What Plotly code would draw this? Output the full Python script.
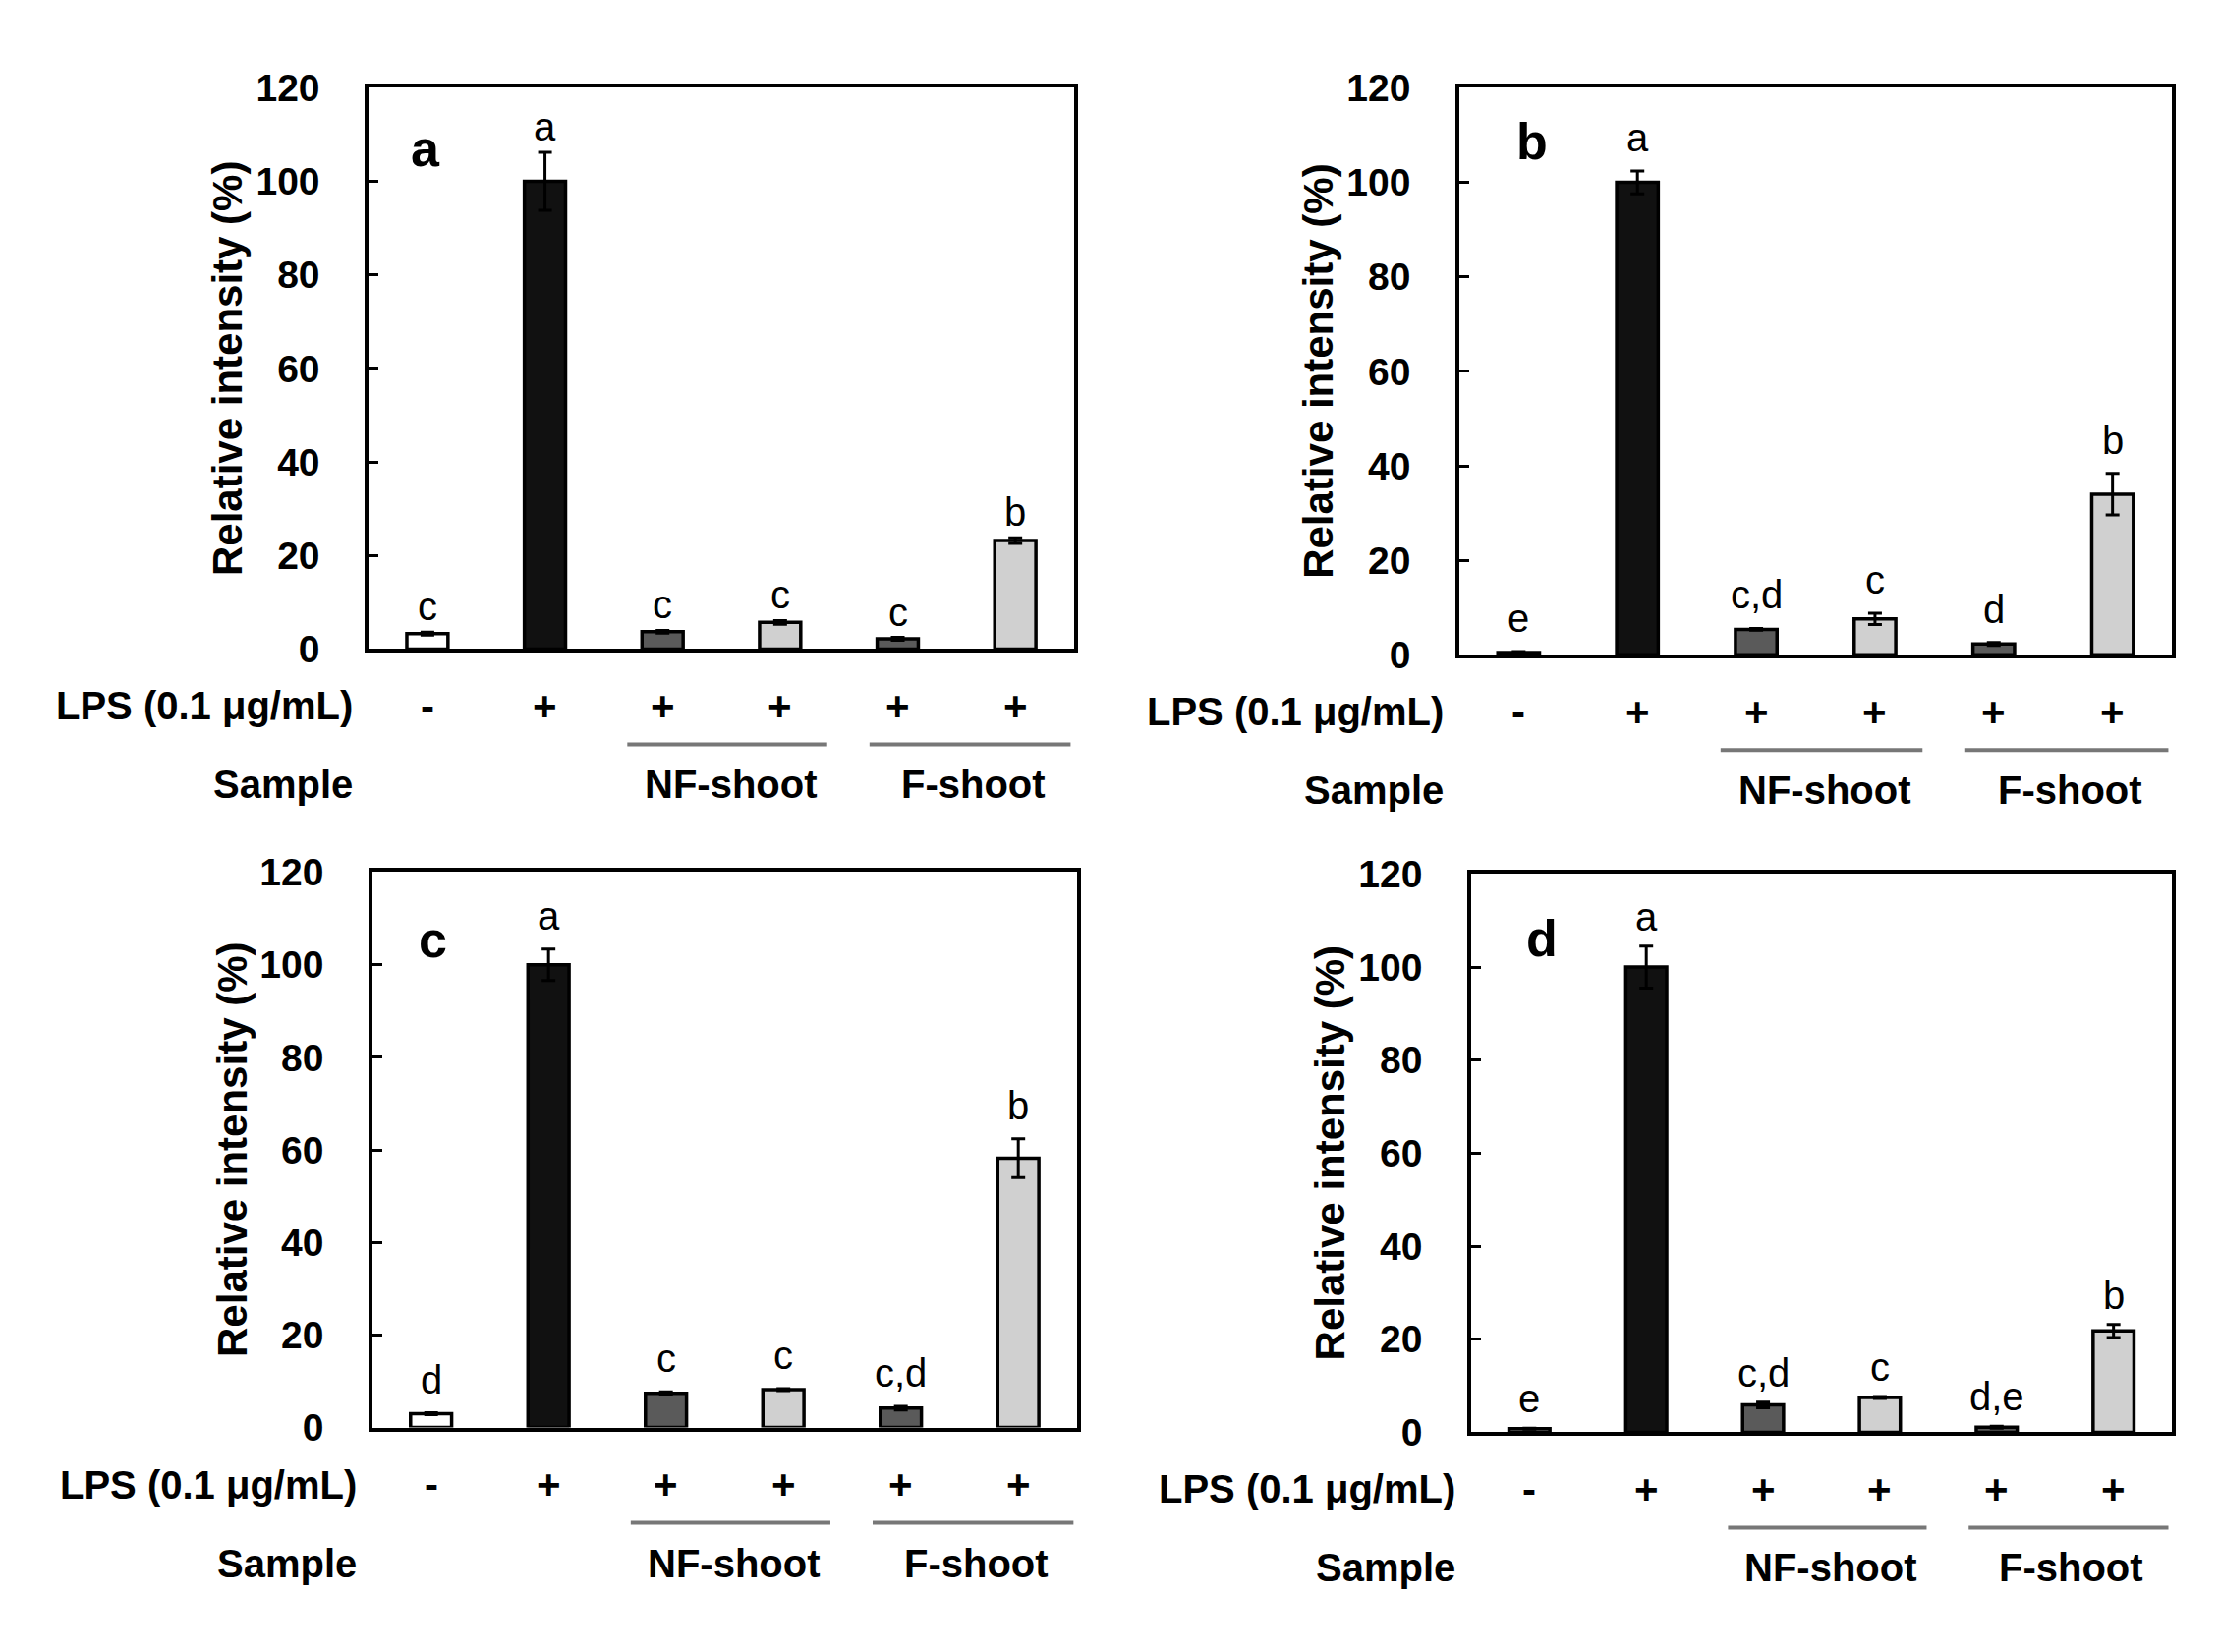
import plotly.graph_objects as go
from plotly.subplots import make_subplots

# --- data ---
groups = ["Control", "LPS", "NF-1", "NF-2", "F-1", "F-2"]
lps_signs = ["-", "+", "+", "+", "+", "+"]
panel_names = ["a", "b", "c", "d"]

means_a = [3.3, 100, 3.7, 5.7, 2.2, 23.2]
err_a = [0.3, 6.2, 0.3, 0.4, 0.3, 0.6]
letters_a = ["c", "a", "c", "c", "c", "b"]

means_b = [0.5, 100, 5.4, 7.6, 2.3, 34.0]
err_b = [0.2, 2.4, 0.2, 1.2, 0.3, 4.4]
letters_b = ["e", "a", "c,d", "c", "d", "b"]

means_c = [3.0, 100, 7.4, 8.2, 4.2, 58.2]
err_c = [0.2, 3.4, 0.3, 0.2, 0.4, 4.2]
letters_c = ["d", "a", "c", "c", "c,d", "b"]

means_d = [0.8, 100, 5.9, 7.5, 1.1, 21.8]
err_d = [0.1, 4.5, 0.6, 0.2, 0.2, 1.4]
letters_d = ["e", "a", "c,d", "c", "d,e", "b"]

y_ticks = [0, 20, 40, 60, 80, 100, 120]

bar_colors = ["#ffffff", "#111111", "#5a5a5a", "#d0d0d0", "#5a5a5a", "#d0d0d0"]
FONT = "Liberation Sans, Arial, sans-serif"

panels = [
    (means_a, err_a, letters_a),
    (means_b, err_b, letters_b),
    (means_c, err_c, letters_c),
    (means_d, err_d, letters_d),
]
# plot-area domains in paper coordinates (figure is 2259 x 1681)
x_domains = [[0.1625, 0.4803], [0.6538, 0.9748], [0.1642, 0.4816], [0.6591, 0.9748]]
y_domains = [[0.6145, 0.9631], [0.6109, 0.9631], [0.1309, 0.4759], [0.1279, 0.4747]]
letter_pos = [(0.081, 0.892), (0.102, 0.905), (0.086, 0.878), (0.101, 0.885)]
letter_shift = [2, 10, 10, 6]


def bold(size):
    return dict(family=FONT, size=size, color="black", weight="bold")


fig = make_subplots(rows=2, cols=2)
annotations = []
shapes = []

for i, (means, errs, letters) in enumerate(panels):
    row, col = i // 2 + 1, i % 2 + 1
    xs = list(range(len(groups)))
    fig.add_trace(go.Bar(
        x=xs, y=means, width=0.35,
        marker=dict(color=bar_colors, line=dict(color="black", width=3.5)),
        error_y=dict(type="data", array=errs, color="black", thickness=3, width=7),
        showlegend=False,
    ), row=row, col=col)

    sfx = "" if i == 0 else str(i + 1)
    xr, yr = "x" + sfx, "y" + sfx
    xd, yd = xr + " domain", yr + " domain"

    # significance letters above the bars
    for x, m, e, t in zip(xs, means, errs, letters):
        annotations.append(dict(x=x, y=m + e, xref=xr, yref=yr, text=t, showarrow=False,
                                xanchor="center", yanchor="bottom", yshift=letter_shift[i],
                                font=dict(family=FONT, size=40, color="black")))
    # panel letter
    annotations.append(dict(x=letter_pos[i][0], y=letter_pos[i][1], xref=xd, yref=yd,
                            text=panel_names[i], showarrow=False,
                            xanchor="center", yanchor="middle", font=bold(52)))
    # y title
    annotations.append(dict(x=0, y=0.5, xref=xd, yref=yd, text="Relative intensity (%)",
                            textangle=-90, showarrow=False, xanchor="center",
                            yanchor="middle", xshift=-143, font=bold(42)))
    # LPS row
    annotations.append(dict(x=0, y=0, xref=xd, yref=yd, text="LPS (0.1 μg/mL)",
                            showarrow=False, xanchor="right", yanchor="middle",
                            xshift=-14, yshift=-58, font=bold(40)))
    for x, s in zip(xs, lps_signs):
        annotations.append(dict(x=x, y=0, xref=xr, yref=yd, text=s, showarrow=False,
                                xanchor="center", yanchor="middle", yshift=-58,
                                font=bold(42)))
    # Sample row
    annotations.append(dict(x=0, y=0, xref=xd, yref=yd, text="Sample",
                            showarrow=False, xanchor="right", yanchor="middle",
                            xshift=-14, yshift=-138, font=bold(40)))
    for xc, name in [(2.58, "NF-shoot"), (4.64, "F-shoot")]:
        annotations.append(dict(x=xc, y=0, xref=xr, yref=yd, text=name, showarrow=False,
                                xanchor="center", yanchor="middle", yshift=-138,
                                font=bold(40)))
    for x0, x1 in [(1.70, 3.40), (3.76, 5.47)]:
        shapes.append(dict(type="line", xref=xr, yref=yd, x0=x0, x1=x1,
                           ysizemode="pixel", yanchor=0, y0=-97, y1=-97,
                           line=dict(color="#777777", width=4)))

    fig.update_xaxes(domain=x_domains[i], range=[-0.5, 5.5], showticklabels=False,
                     ticks="", showgrid=False, zeroline=False, showline=True,
                     mirror=True, linecolor="black", linewidth=3.5, row=row, col=col)
    fig.update_yaxes(domain=y_domains[i], range=[0, 120], tickvals=y_ticks,
                     ticks="inside", ticklen=10, tickwidth=3, tickcolor="black",
                     ticklabelstandoff=38, showgrid=False, zeroline=False,
                     showline=True, mirror=True, linecolor="black", linewidth=3.5,
                     tickfont=bold(39), row=row, col=col)

fig.update_layout(
    width=2259, height=1681,
    margin=dict(l=0, r=0, t=0, b=0),
    plot_bgcolor="white", paper_bgcolor="white",
    annotations=annotations, shapes=shapes,
)

fig.write_html("out.html")
